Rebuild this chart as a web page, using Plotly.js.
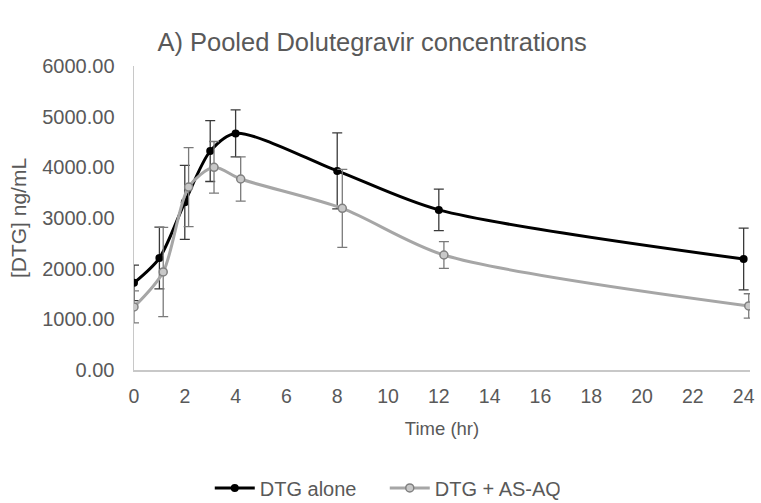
<!DOCTYPE html>
<html>
<head>
<meta charset="utf-8">
<script src="https://cdn.plot.ly/plotly-3.0.1.min.js"></script>
<style>html,body{margin:0;padding:0;background:#fff;}#chart{width:761px;height:503px;}</style>
</head>
<body>
<div id="chart"></div>
<script>
// Data
const seriesNames = ["DTG alone", "DTG + AS-AQ"];
const timeAlone = [0, 1, 2, 3, 4, 8, 12, 24];
const dtgAlone = [1720, 2210, 3310, 4320, 4670, 3930, 3160, 2190];
const dtgAloneSD = [350, 610, 730, 600, 465, 750, 410, 610];
const timeCombo = [0, 1.15, 2.15, 3.15, 4.2, 8.2, 12.2, 24.2];
const dtgCombo = [1245, 1935, 3610, 4000, 3770, 3190, 2270, 1265];
const dtgComboSD = [315, 880, 780, 510, 435, 770, 265, 240];
const xTicks = [0, 2, 4, 6, 8, 10, 12, 14, 16, 18, 20, 22, 24];
const yTicks = [0, 1000, 2000, 3000, 4000, 5000, 6000];

const font = "Liberation Sans, Arial, sans-serif";
const textColor = "#595959";

const traces = [
  {
    x: timeAlone, y: dtgAlone, name: seriesNames[0], type: "scatter", mode: "lines+markers",
    line: {color: "#000000", width: 3, shape: "spline", smoothing: 0.8},
    marker: {color: "#000000", size: 8, symbol: "circle"},
    error_y: {type: "data", array: dtgAloneSD, visible: true, color: "#3a3a3a", thickness: 1.3, width: 5}
  },
  {
    x: timeCombo, y: dtgCombo, name: seriesNames[1], type: "scatter", mode: "lines+markers",
    line: {color: "#a6a6a6", width: 3, shape: "spline", smoothing: 0.8},
    marker: {color: "#c8c8c8", size: 8, symbol: "circle", line: {color: "#808080", width: 1.5}},
    error_y: {type: "data", array: dtgComboSD, visible: true, color: "#7a7a7a", thickness: 1.3, width: 5}
  }
];

const layout = {
  width: 761, height: 503,
  margin: {l: 134, r: 11, t: 66, b: 133, autoexpand: false},
  paper_bgcolor: "#ffffff", plot_bgcolor: "#ffffff",
  font: {family: font, color: textColor, size: 18},
  title: {text: "A) Pooled Dolutegravir concentrations", font: {family: font, size: 25.5, color: textColor},
          x: 0.489, xanchor: "center", y: 1 - 42/503, yanchor: "middle"},
  xaxis: {
    range: [0, 24.25], tickvals: xTicks, ticktext: xTicks.map(String),
    showgrid: false, zeroline: false, showline: true, linecolor: "#c8c8c8", linewidth: 1.5,
    ticks: "", tickfont: {size: 19.5, color: textColor}, ticklabelstandoff: 8,
    title: {text: "Time (hr)", font: {size: 18.5, color: textColor}, standoff: 16}
  },
  yaxis: {
    range: [0, 6000], tickvals: yTicks, ticktext: yTicks.map(v => v.toFixed(2)),
    showgrid: false, zeroline: false, showline: true, linecolor: "#c8c8c8", linewidth: 1.5,
    ticks: "", tickfont: {size: 20, color: textColor}, ticklabelstandoff: 14,
    title: {text: "[DTG] ng/mL", font: {size: 21, color: textColor}, standoff: 10}
  },
  showlegend: true,
  legend: {orientation: "h", x: 0.123, xanchor: "left", y: -0.388, yanchor: "middle",
           font: {size: 20, color: textColor}, itemwidth: 40, entrywidth: 120}
};

Plotly.newPlot("chart", traces, layout, {staticPlot: true, displayModeBar: false});
</script>
</body>
</html>
